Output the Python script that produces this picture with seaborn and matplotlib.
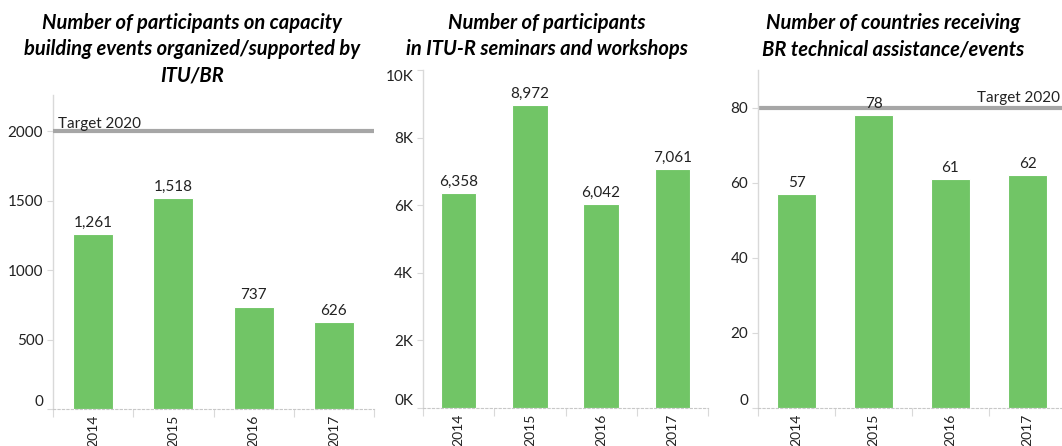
import matplotlib
matplotlib.use("Agg")
import matplotlib.pyplot as plt
from matplotlib.ticker import FuncFormatter, FixedLocator
import seaborn as sns
import pandas as pd

# ─── Data ─────────────────────────────────────────────────────────────────────
years = ["2014", "2015", "2016", "2017"]
capacity_participants = [1261, 1518, 737, 626]
seminar_participants = [6358, 8972, 6042, 7061]
countries_assisted = [57, 78, 61, 62]

target_capacity = 2000
target_countries = 80

titles = [
    "Number of participants on capacity\nbuilding events organized/supported by\nITU/BR",
    "Number of participants\nin ITU-R seminars and workshops",
    "Number of countries receiving\nBR technical assistance/events",
]

# ─── Style ────────────────────────────────────────────────────────────────────
sns.set_style("white")
plt.rcParams["font.family"] = ["Lato", "DejaVu Sans"]

BAR_COLOR = "#71C566"
TARGET_COLOR = "#A6A6A6"
AXIS_COLOR = "#D9D9D9"
TEXT_COLOR = "#222222"

W, H = 1062, 446
fig = plt.figure(figsize=(W / 100, H / 100), dpi=100)


def px_axes(left, right, bottom_y, top_y):
    return fig.add_axes([left / W, 1 - bottom_y / H,
                         (right - left) / W, (bottom_y - top_y) / H])


def style_axis(ax, ymax, yticks):
    ax.set_xlim(-0.5, 3.5)
    ax.set_ylim(0, ymax)
    ax.set_xlabel("")
    ax.set_ylabel("")
    for s in ["top", "right"]:
        ax.spines[s].set_visible(False)
    ax.spines["left"].set_color(AXIS_COLOR)
    ax.spines["left"].set_linewidth(1.0)
    ax.spines["bottom"].set_color("#C8C8C8")
    ax.spines["bottom"].set_linewidth(0.8)
    ax.spines["bottom"].set_linestyle((0, (2, 2)))
    ax.yaxis.set_major_locator(FixedLocator(yticks))
    ax.tick_params(axis="y", left=True, length=4, width=0.8,
                   color=AXIS_COLOR, pad=3, labelsize=11,
                   labelcolor=TEXT_COLOR)
    ax.set_xticks(range(len(years)))
    ax.set_xticklabels(years, rotation=90, va="top")
    ax.tick_params(axis="x", which="major", length=0, pad=4,
                   labelsize=10, labelcolor=TEXT_COLOR)
    ax.xaxis.set_minor_locator(FixedLocator([-0.5, 0.5, 1.5, 2.5, 3.5]))
    ax.tick_params(axis="x", which="minor", bottom=True, length=6,
                   width=0.8, color=AXIS_COLOR)
    ax.grid(False)


def draw_bars(ax, values, fmt):
    df = pd.DataFrame({"year": years, "value": values})
    sns.barplot(data=df, x="year", y="value", ax=ax, color=BAR_COLOR,
                width=0.5, saturation=1, edgecolor="white", linewidth=0.8)
    for i, v in enumerate(values):
        ax.annotate(fmt(v), (i, v), xytext=(0, 3), textcoords="offset points",
                    ha="center", va="bottom", fontsize=11, color=TEXT_COLOR)


def nudge_end_labels(ax, top_too=False):
    ticks = ax.yaxis.get_major_ticks()
    ticks[0].label1.set_verticalalignment("bottom")
    if top_too:
        ticks[-1].label1.set_verticalalignment("top")


# ── Panel 1 ───────────────────────────────────────────────────
ax1 = px_axes(53, 374, 409, 95)
draw_bars(ax1, capacity_participants, lambda v: f"{v:,}")
style_axis(ax1, 2260, [0, 500, 1000, 1500, 2000])
ax1.axhline(target_capacity, color=TARGET_COLOR, lw=3, zorder=3)
ax1.text(0.015, target_capacity, "Target 2020", transform=ax1.get_yaxis_transform(),
         ha="left", va="bottom", fontsize=11, color=TEXT_COLOR)

# ── Panel 2 ───────────────────────────────────────────────────
ax2 = px_axes(423, 708, 408, 70)
draw_bars(ax2, seminar_participants, lambda v: f"{v:,}")
style_axis(ax2, 10000, [0, 2000, 4000, 6000, 8000, 10000])
ax2.yaxis.set_major_formatter(FuncFormatter(lambda x, p: f"{x / 1000:.0f}K"))

# ── Panel 3 ───────────────────────────────────────────────────
ax3 = px_axes(758, 1066, 408, 70)
draw_bars(ax3, countries_assisted, lambda v: f"{v}")
style_axis(ax3, 90, [0, 20, 40, 60, 80])
ax3.axhline(target_countries, color=TARGET_COLOR, lw=3, zorder=1)
ax3.annotate("Target 2020", ((1060 - 758) / (1066 - 758), target_countries),
             xycoords=ax3.get_yaxis_transform(), xytext=(0, 2),
             textcoords="offset points", ha="right", va="bottom",
             fontsize=11, color=TEXT_COLOR)

fig.canvas.draw()
nudge_end_labels(ax1)
nudge_end_labels(ax2, top_too=True)
nudge_end_labels(ax3)

# ── Titles ────────────────────────────────────────────────────
for cx, title in zip([192, 547, 893], titles):
    fig.text(cx / W, 1 - 13 / H, title, ha="center", va="top",
             fontsize=14.5, fontweight="bold", fontstyle="italic",
             linespacing=1.38, color="black")

fig.savefig("out.png", dpi=100)
